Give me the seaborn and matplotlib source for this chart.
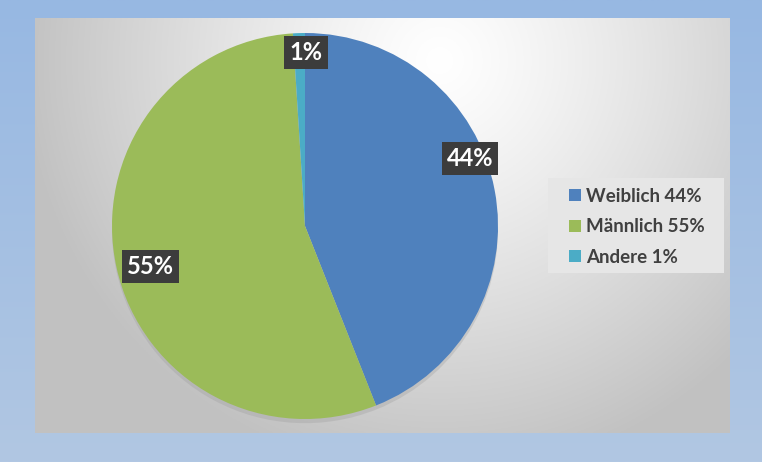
import numpy as np
import matplotlib
matplotlib.use("Agg")
import matplotlib.pyplot as plt
import matplotlib.patheffects as pe
from matplotlib.patches import Rectangle
import seaborn as sns

# data
categories = ["Weiblich", "Männlich", "Andere"]
shares = [44, 55, 1]
colors = ["#4F81BD", "#9BBB59", "#4BACC6"]

sns.set_theme(style="white")
plt.rcParams["font.family"] = ["Lato", "DejaVu Sans"]

W, H = 762, 462
fig = plt.figure(figsize=(W / 100, H / 100), dpi=100)

# outer blue background (vertical gradient)
bg = fig.add_axes([0, 0, 1, 1])
grad = np.linspace(0, 1, 200).reshape(-1, 1)
top = np.array([0x97, 0xB8, 0xE2]) / 255
bot = np.array([0xB1, 0xC7, 0xE3]) / 255
img = top + (bot - top) * grad[..., None]
bg.imshow(img, aspect="auto", extent=[0, 1, 0, 1])
bg.set_axis_off()

# inner panel with radial gradient
px0, py0, px1, py1 = 35, 18, 730, 433
panel = fig.add_axes([px0 / W, (H - py1) / H, (px1 - px0) / W, (py1 - py0) / H])
nx, ny = 400, 240
xx, yy = np.meshgrid(np.linspace(0, px1 - px0, nx), np.linspace(0, py1 - py0, ny))
cx, cy = 440 - px0, 60 - py0
d = np.sqrt((xx - cx) ** 2 + (yy - cy) ** 2) / 430
g = np.clip(1.0 - 0.25 * np.clip(d, 0, 1.25) ** 1.2, 0.76, 1.0)
panel.imshow(np.dstack([g, g, g]), aspect="auto", extent=[0, 1, 0, 1], origin="upper")
panel.set_axis_off()

# legend background
fig.patches.append(Rectangle((548 / W, 1 - 273 / H), 176 / W, 95 / H,
                             transform=fig.transFigure, facecolor="#E6E6E6",
                             edgecolor="none", zorder=1))

# pie
cxp, cyp, r = 305, 226, 193
ax = fig.add_axes([(cxp - r) / W, (H - cyp - r) / H, 2 * r / W, 2 * r / H])
ax.set_facecolor("none")
wedges, _ = ax.pie(shares, colors=colors, startangle=90, counterclock=False,
                   radius=1.0, wedgeprops=dict(linewidth=0))
for w in wedges:
    w.set_path_effects([pe.SimplePatchShadow(offset=(0, -3), shadow_rgbFace="#999999", alpha=0.3),
                        pe.Normal()])
ax.set_xlim(-1.0, 1.0)
ax.set_ylim(-1.0, 1.0)
ax.set_aspect("equal")
ax.set_axis_off()

# data labels (positions in pie units)
label_pos = [(0.855, 0.35), (-0.80, -0.21), (0.005, 0.9)]
for (x, y), s in zip(label_pos, shares):
    ax.text(x, y, f"{s}%", ha="center", va="center", color="white",
            fontsize=17, fontweight="bold",
            bbox=dict(boxstyle="square,pad=0.22", facecolor="#3C3C3C", edgecolor="none"))

# legend
labels = [f"{c} {s}%" for c, s in zip(categories, shares)]
leg = fig.legend(wedges, labels, loc="center left",
                 bbox_to_anchor=(569 / W, 1 - 227 / H),
                 frameon=False, borderpad=0, borderaxespad=0,
                 handlelength=0.62, handleheight=0.62, handletextpad=0.3,
                 labelspacing=0.72,
                 prop=dict(family=["Lato", "DejaVu Sans"], weight="bold", size=13.5))
for t in leg.get_texts():
    t.set_color("#404040")
for h in leg.legend_handles:
    h.set_path_effects([])

fig.savefig("out.png", dpi=100)
